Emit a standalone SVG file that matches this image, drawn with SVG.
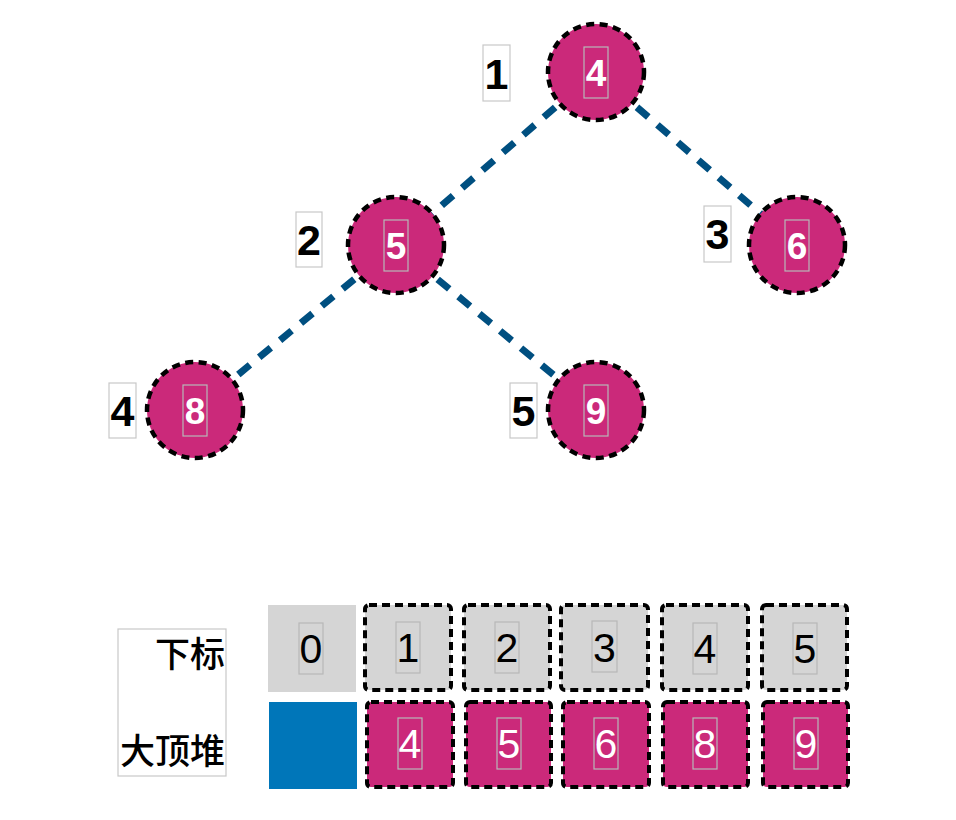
<svg xmlns="http://www.w3.org/2000/svg" width="956" height="820" viewBox="0 0 956 820">
<style>
.edge{stroke:#004f80;stroke-width:7;stroke-dasharray:15 12;fill:none}
.node{fill:#cb297a;stroke:#000;stroke-width:4.5;stroke-dasharray:8 5.5}
.tbox{fill:none;stroke:#b8b8b8;stroke-width:1.2}
.lbox{fill:#fff;stroke:#c8c8c8;stroke-width:1.2}
.nt{font-family:"Liberation Sans",Arial,sans-serif;font-size:37px;font-weight:bold;fill:#fff;text-anchor:middle}
.lt{font-family:"Liberation Sans",Arial,sans-serif;font-size:43px;font-weight:bold;fill:#000;text-anchor:middle}
.cg{fill:#d5d5d5;stroke:#000;stroke-width:4;stroke-dasharray:8 5}
.cm{fill:#cb297a;stroke:#000;stroke-width:4;stroke-dasharray:8 5}
.at{font-family:"Liberation Sans",Arial,sans-serif;font-size:41px;fill:#000;text-anchor:middle}
.aw{font-family:"Liberation Sans",Arial,sans-serif;font-size:41px;fill:#fff;text-anchor:middle}
.ct{font-family:"Noto Sans CJK SC",sans-serif;font-size:35px;font-weight:500;fill:#000;text-anchor:end}
</style>
<g id="edges">
<line class="edge" x1="596" y1="72" x2="396" y2="245"/>
<line class="edge" x1="596" y1="72" x2="797" y2="245"/>
<line class="edge" x1="396" y1="245" x2="195" y2="410"/>
<line class="edge" x1="396" y1="245" x2="596" y2="410"/>
</g>
<g id="n1">
<rect class="lbox" x="483" y="45" width="27" height="56"/><text class="lt" x="496.5" y="89">1</text>
<circle class="node" cx="596" cy="72" r="48"/>
<rect class="tbox" x="584" y="47" width="24" height="51"/><text class="nt" x="596" y="86">4</text>
</g>
<g id="n2">
<rect class="lbox" x="296" y="212" width="26" height="55"/><text class="lt" x="309" y="255">2</text>
<circle class="node" cx="396" cy="245" r="48"/>
<rect class="tbox" x="384" y="220" width="24" height="51"/><text class="nt" x="396" y="259">5</text>
</g>
<g id="n3">
<rect class="lbox" x="704" y="206" width="27" height="56"/><text class="lt" x="717.5" y="249">3</text>
<circle class="node" cx="797" cy="245" r="48"/>
<rect class="tbox" x="785" y="220" width="24" height="51"/><text class="nt" x="797" y="259">6</text>
</g>
<g id="n4">
<rect class="lbox" x="109" y="383" width="27" height="55"/><text class="lt" x="122.5" y="426">4</text>
<circle class="node" cx="195" cy="410" r="48"/>
<rect class="tbox" x="183" y="385" width="24" height="51"/><text class="nt" x="195" y="424">8</text>
</g>
<g id="n5">
<rect class="lbox" x="510" y="383" width="27" height="55"/><text class="lt" x="523.5" y="426">5</text>
<circle class="node" cx="596" cy="410" r="48"/>
<rect class="tbox" x="584" y="385" width="24" height="51"/><text class="nt" x="596" y="424">9</text>
</g>
<g id="legend">
<rect class="lbox" x="118" y="629" width="108" height="147"/>
<text class="ct" x="225" y="667">下标</text>
<text class="ct" x="225" y="764">大顶堆</text>
</g>
<g id="array">
<rect x="268" y="605" width="88" height="87" fill="#d5d5d5"/>
<rect class="tbox" x="299" y="623" width="24" height="51"/><text class="at" x="311" y="663">0</text>
<rect x="269" y="702" width="88" height="87" fill="#0076b9"/>

<rect class="cg" x="365" y="605" width="86" height="85" rx="4"/>
<rect class="tbox" x="396" y="622" width="24" height="51"/><text class="at" x="408" y="662">1</text>
<rect class="cg" x="464" y="605" width="86" height="85" rx="4"/>
<rect class="tbox" x="495" y="622" width="24" height="51"/><text class="at" x="507" y="662">2</text>
<rect class="cg" x="561" y="605" width="87" height="85" rx="4"/>
<rect class="tbox" x="592" y="621" width="25" height="51"/><text class="at" x="604.5" y="662">3</text>
<rect class="cg" x="662" y="605" width="86" height="85" rx="4"/>
<rect class="tbox" x="693" y="623" width="24" height="51"/><text class="at" x="705" y="663">4</text>
<rect class="cg" x="762" y="605" width="85" height="85" rx="4"/>
<rect class="tbox" x="793" y="623" width="24" height="51"/><text class="at" x="805" y="663">5</text>

<rect class="cm" x="367" y="702" width="86" height="85" rx="4"/>
<rect class="tbox" x="398" y="718" width="24" height="51"/><text class="aw" x="410" y="758">4</text>
<rect class="cm" x="466" y="702" width="85" height="85" rx="4"/>
<rect class="tbox" x="497" y="718" width="24" height="51"/><text class="aw" x="509" y="758">5</text>
<rect class="cm" x="563" y="702" width="86" height="85" rx="4"/>
<rect class="tbox" x="594" y="718" width="24" height="51"/><text class="aw" x="606" y="758">6</text>
<rect class="cm" x="663" y="702" width="85" height="85" rx="4"/>
<rect class="tbox" x="693" y="718" width="24" height="51"/><text class="aw" x="705" y="758">8</text>
<rect class="cm" x="763" y="702" width="85" height="85" rx="4"/>
<rect class="tbox" x="794" y="718" width="24" height="51"/><text class="aw" x="806" y="758">9</text>
</g>
</svg>
